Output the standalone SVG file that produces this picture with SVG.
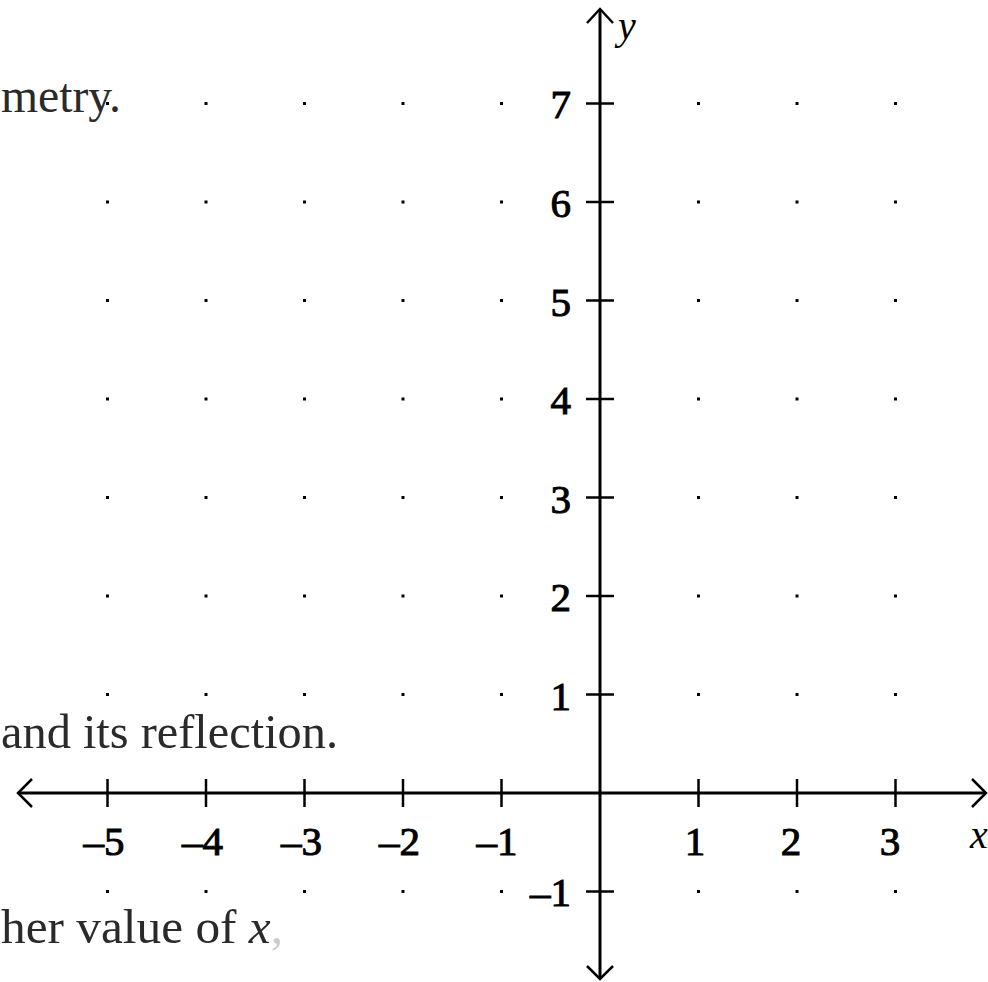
<svg xmlns="http://www.w3.org/2000/svg" width="988" height="982" viewBox="0 0 988 982">
<style>
.ax{stroke:#000;stroke-width:3;fill:none}
.tk{stroke:#000;stroke-width:2.5;fill:none}
.ar{stroke:#000;stroke-width:2.5;fill:none;stroke-linejoin:miter}
.lb{font-family:"Liberation Serif",serif;font-size:41px;fill:#000;stroke:#000;stroke-width:1}
.al{font-family:"Liberation Serif",serif;font-style:italic;font-size:40px;fill:#000}
.tx{font-family:"Liberation Serif",serif;font-size:48px;fill:#2a2a2a}
</style>
<defs>
<rect id="d" x="-1.5" y="-1.5" width="3" height="3" fill="#000"/>
</defs>
<rect width="988" height="982" fill="#fff"/>
<g id="text">
<text class="tx" x="1" y="112" textLength="120" lengthAdjust="spacingAndGlyphs">metry.</text>
<text class="tx" x="1" y="748" textLength="337" lengthAdjust="spacingAndGlyphs">and its reflection.</text>
<text class="tx" x="1" y="943" textLength="282" lengthAdjust="spacingAndGlyphs">her value of <tspan font-style="italic">x</tspan><tspan fill="#ccc">,</tspan></text>
</g>
<g id="dots">
<g id="row7"><use href="#d" x="107.5" y="103.5"/><use href="#d" x="206" y="103.5"/><use href="#d" x="304.5" y="103.5"/><use href="#d" x="403" y="103.5"/><use href="#d" x="501.5" y="103.5"/><use href="#d" x="698.5" y="103.5"/><use href="#d" x="797" y="103.5"/><use href="#d" x="895.5" y="103.5"/></g>
<g id="row6"><use href="#d" x="107.5" y="202"/><use href="#d" x="206" y="202"/><use href="#d" x="304.5" y="202"/><use href="#d" x="403" y="202"/><use href="#d" x="501.5" y="202"/><use href="#d" x="698.5" y="202"/><use href="#d" x="797" y="202"/><use href="#d" x="895.5" y="202"/></g>
<g id="row5"><use href="#d" x="107.5" y="300.5"/><use href="#d" x="206" y="300.5"/><use href="#d" x="304.5" y="300.5"/><use href="#d" x="403" y="300.5"/><use href="#d" x="501.5" y="300.5"/><use href="#d" x="698.5" y="300.5"/><use href="#d" x="797" y="300.5"/><use href="#d" x="895.5" y="300.5"/></g>
<g id="row4"><use href="#d" x="107.5" y="399"/><use href="#d" x="206" y="399"/><use href="#d" x="304.5" y="399"/><use href="#d" x="403" y="399"/><use href="#d" x="501.5" y="399"/><use href="#d" x="698.5" y="399"/><use href="#d" x="797" y="399"/><use href="#d" x="895.5" y="399"/></g>
<g id="row3"><use href="#d" x="107.5" y="497.5"/><use href="#d" x="206" y="497.5"/><use href="#d" x="304.5" y="497.5"/><use href="#d" x="403" y="497.5"/><use href="#d" x="501.5" y="497.5"/><use href="#d" x="698.5" y="497.5"/><use href="#d" x="797" y="497.5"/><use href="#d" x="895.5" y="497.5"/></g>
<g id="row2"><use href="#d" x="107.5" y="596"/><use href="#d" x="206" y="596"/><use href="#d" x="304.5" y="596"/><use href="#d" x="403" y="596"/><use href="#d" x="501.5" y="596"/><use href="#d" x="698.5" y="596"/><use href="#d" x="797" y="596"/><use href="#d" x="895.5" y="596"/></g>
<g id="row1"><use href="#d" x="107.5" y="694.5"/><use href="#d" x="206" y="694.5"/><use href="#d" x="304.5" y="694.5"/><use href="#d" x="403" y="694.5"/><use href="#d" x="501.5" y="694.5"/><use href="#d" x="698.5" y="694.5"/><use href="#d" x="797" y="694.5"/><use href="#d" x="895.5" y="694.5"/></g>
<g id="rowm1"><use href="#d" x="107.5" y="891.5"/><use href="#d" x="206" y="891.5"/><use href="#d" x="304.5" y="891.5"/><use href="#d" x="403" y="891.5"/><use href="#d" x="501.5" y="891.5"/><use href="#d" x="698.5" y="891.5"/><use href="#d" x="797" y="891.5"/><use href="#d" x="895.5" y="891.5"/></g>
</g>
<g id="axes">
<line class="ax" x1="18" y1="793" x2="986" y2="793"/>
<line class="ax" x1="600" y1="9" x2="600" y2="979"/>
<polyline class="ar" points="32,779 18,793 32,807"/>
<polyline class="ar" points="972,779 986,793 972,807"/>
<polyline class="ar" points="587,23 600,9 613,23"/>
<polyline class="ar" points="587,966 600,979 613,966"/>
<g id="xticks">
<line class="tk" x1="107.5" y1="779" x2="107.5" y2="807"/>
<line class="tk" x1="206" y1="779" x2="206" y2="807"/>
<line class="tk" x1="304.5" y1="779" x2="304.5" y2="807"/>
<line class="tk" x1="403" y1="779" x2="403" y2="807"/>
<line class="tk" x1="501.5" y1="779" x2="501.5" y2="807"/>
<line class="tk" x1="698.5" y1="779" x2="698.5" y2="807"/>
<line class="tk" x1="797" y1="779" x2="797" y2="807"/>
<line class="tk" x1="895.5" y1="779" x2="895.5" y2="807"/>
</g>
<g id="yticks">
<line class="tk" x1="586" y1="103.5" x2="614" y2="103.5"/>
<line class="tk" x1="586" y1="202" x2="614" y2="202"/>
<line class="tk" x1="586" y1="300.5" x2="614" y2="300.5"/>
<line class="tk" x1="586" y1="399" x2="614" y2="399"/>
<line class="tk" x1="586" y1="497.5" x2="614" y2="497.5"/>
<line class="tk" x1="586" y1="596" x2="614" y2="596"/>
<line class="tk" x1="586" y1="694.5" x2="614" y2="694.5"/>
<line class="tk" x1="586" y1="891.5" x2="614" y2="891.5"/>
</g>
</g>
<g id="xlabels">
<text class="lb" text-anchor="middle" x="104" y="855">–5</text>
<text class="lb" text-anchor="middle" x="202.5" y="855">–4</text>
<text class="lb" text-anchor="middle" x="301.5" y="855">–3</text>
<text class="lb" text-anchor="middle" x="399.5" y="855">–2</text>
<text class="lb" text-anchor="middle" x="497" y="855">–1</text>
<text class="lb" text-anchor="middle" x="695" y="855">1</text>
<text class="lb" text-anchor="middle" x="791" y="855">2</text>
<text class="lb" text-anchor="middle" x="890" y="855">3</text>
</g>
<g id="ylabels">
<text class="lb" text-anchor="end" x="571" y="118">7</text>
<text class="lb" text-anchor="end" x="571" y="217">6</text>
<text class="lb" text-anchor="end" x="571" y="315.5">5</text>
<text class="lb" text-anchor="end" x="571" y="414">4</text>
<text class="lb" text-anchor="end" x="571" y="512.5">3</text>
<text class="lb" text-anchor="end" x="571" y="611">2</text>
<text class="lb" text-anchor="end" x="571" y="709.5">1</text>
<text class="lb" text-anchor="end" x="571" y="906">–1</text>
</g>
<g id="axislabels">
<text class="al" x="618" y="39">y</text>
<text class="al" x="970" y="848">x</text>
</g>
</svg>
